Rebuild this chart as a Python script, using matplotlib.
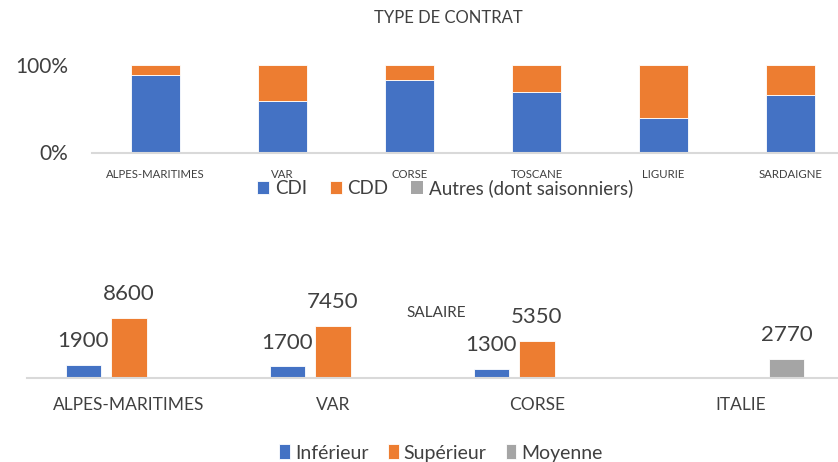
import matplotlib
matplotlib.use('Agg')
import matplotlib.pyplot as plt
import numpy as np

plt.rcParams['font.family'] = ['Lato', 'DejaVu Sans']

BLUE = '#4472C4'
ORANGE = '#ED7D31'
GREY = '#A5A5A5'
AXIS = '#D9D9D9'
TEXT = '#404040'

# type de contrat (parts en %)
regions = ['ALPES-MARITIMES', 'VAR', 'CORSE', 'TOSCANE', 'LIGURIE', 'SARDAIGNE']
cdi = [89, 59, 83, 69, 39, 66]
cdd = [11, 41, 17, 31, 61, 34]
autres = [0, 0, 0, 0, 0, 0]

# salaires
zones = ['ALPES-MARITIMES', 'VAR', 'CORSE', 'ITALIE']
inferieur = [1900, 1700, 1300, None]
superieur = [8600, 7450, 5350, None]
moyenne = [None, None, None, 2770]

W, H = 838, 462
fig = plt.figure(figsize=(W / 100, H / 100), dpi=100)
fig.patch.set_facecolor('white')


def px_axes(left, top, right, bottom):
    return fig.add_axes([left / W, 1 - bottom / H, (right - left) / W, (bottom - top) / H])


# ── panneau haut : 100 % empilé ──
ax1 = px_axes(92, 65, 838, 152.5)
x1 = np.arange(len(regions))
tot = np.array(cdi) + np.array(cdd) + np.array(autres)
p_cdi = np.array(cdi) / tot
p_cdd = np.array(cdd) / tot
p_aut = np.array(autres) / tot
bw = 0.39
b_cdi = ax1.bar(x1, p_cdi, bw, color=BLUE, edgecolor='white', linewidth=0.6, clip_on=False)
b_cdd = ax1.bar(x1, p_cdd, bw, bottom=p_cdi, color=ORANGE, edgecolor='white', linewidth=0.6, clip_on=False)
b_aut = ax1.bar(x1, p_aut, bw, bottom=p_cdi + p_cdd, color=GREY, clip_on=False)
ax1.set_xlim(-0.5, -0.5 + 746 / 127)
ax1.set_ylim(0, 1)
ax1.set_yticks([0, 1])
ax1.set_yticklabels(['0%', '100%'], fontsize=15, color=TEXT)
ax1.set_xticks(x1)
ax1.set_xticklabels(regions, fontsize=8.2, color=TEXT)
ax1.tick_params(length=0, pad=12)
ax1.tick_params(axis='y', pad=17)
for s in ['top', 'right', 'left']:
    ax1.spines[s].set_visible(False)
ax1.spines['bottom'].set_color(AXIS)
ax1.spines['bottom'].set_linewidth(1.5)
fig.text(448 / W, 1 - 18 / H, 'TYPE DE CONTRAT', ha='center', va='center', fontsize=12, color=TEXT)
fig.legend([b_cdi, b_cdd, b_aut], ['CDI', 'CDD', 'Autres (dont saisonniers)'],
           loc='center', bbox_to_anchor=(445 / W, 1 - 188 / H), ncol=3, frameon=False,
           fontsize=13.5, handlelength=0.65, handleheight=0.65, handletextpad=0.3,
           columnspacing=1.2, labelcolor=TEXT, borderpad=0)

# ── panneau bas : salaires ──
ax2 = px_axes(27, 288, 838, 378)
x2 = np.arange(len(zones))
step = 0.225
bw2 = 0.172


def vals(lst):
    return np.array([np.nan if v is None else v for v in lst], dtype=float)


series = [(inferieur, BLUE, 'Inférieur', -step), (superieur, ORANGE, 'Supérieur', 0),
          (moyenne, GREY, 'Moyenne', step)]
handles = []
for data, col, lab, off in series:
    v = vals(data)
    b = ax2.bar(x2 + off, np.nan_to_num(v), bw2, color=col, edgecolor='white', linewidth=0.6,
                label=lab)
    handles.append(b)
    for xi, vi in zip(x2 + off, v):
        if not np.isnan(vi):
            ax2.annotate(f'{int(vi)}', (xi, vi), xytext=(0, 17), textcoords='offset points',
                         ha='center', va='center', fontsize=16, color=TEXT)
ax2.set_xlim(-0.5, -0.5 + 811 / 204)
ax2.set_ylim(0, 8600 * 90 / 60)
ax2.set_yticks([])
ax2.set_xticks(x2)
ax2.set_xticklabels(zones, fontsize=12.5, color=TEXT)
ax2.tick_params(length=0, pad=14)
for s in ['top', 'right', 'left']:
    ax2.spines[s].set_visible(False)
ax2.spines['bottom'].set_color(AXIS)
ax2.spines['bottom'].set_linewidth(1.5)
fig.text(436 / W, 1 - 313 / H, 'SALAIRE', ha='center', va='center', fontsize=11, color=TEXT)
fig.legend(handles, ['Inférieur', 'Supérieur', 'Moyenne'],
           loc='center', bbox_to_anchor=(441 / W, 1 - 453 / H), ncol=3, frameon=False,
           fontsize=14, handlelength=0.55, handleheight=0.8, handletextpad=0.25,
           columnspacing=1.0, labelcolor=TEXT, borderpad=0)

fig.savefig('out.png', dpi=100, facecolor='white')
